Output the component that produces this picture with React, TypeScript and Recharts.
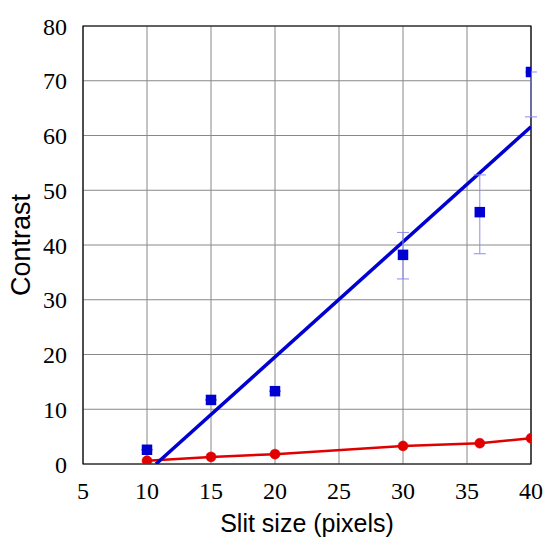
import {
  ComposedChart,
  Scatter,
  Line,
  XAxis,
  YAxis,
  ZAxis,
  CartesianGrid,
  ErrorBar,
  ReferenceArea,
} from "recharts";

const slitSizes = [10, 15, 20, 30, 36, 40];
const blueContrast = [2.6, 11.7, 13.3, 38.2, 46.0, 71.6];
const blueErrLow = [0, 0, 0, 4.4, 7.6, 8.2];
const blueErrHigh = [0, 0, 0, 4.1, 6.8, 0];
const redContrast = [0.6, 1.3, 1.8, 3.3, 3.8, 4.7];
const blueFitX = [10.7, 40];
const blueFitY = [0, 61.6];
const xTicks = [5, 10, 15, 20, 25, 30, 35, 40];
const yTicks = [0, 10, 20, 30, 40, 50, 60, 70, 80];

const blueData = slitSizes.map((x, i) => ({
  x,
  y: blueContrast[i],
  err: [blueErrLow[i], blueErrHigh[i]],
}));
const redData = slitSizes.map((x, i) => ({ x, y: redContrast[i] }));
const fitData = blueFitX.map((x, i) => ({ x, y: blueFitY[i] }));

const css = `
.serif-tick text, text.serif-tick, .recharts-cartesian-axis-tick-value {
  font-family: 'Liberation Serif', 'DejaVu Serif', serif !important;
  font-size: 24px !important;
}
`;

export default function App() {
  return (
    <div style={{ position: "absolute", left: 0, top: 0, background: "#fff" }}>
      <style>{css}</style>
      <ComposedChart
        width={547}
        height={544}
        margin={{ top: 26, right: 16, bottom: 0, left: 0 }}
      >
        <CartesianGrid stroke="#888" strokeWidth={1} />
        <XAxis
          type="number"
          dataKey="x"
          domain={[5, 40]}
          ticks={xTicks}
          allowDataOverflow
          tickLine={false}
          axisLine={false}
          tick={{ fill: "#000", fontSize: 24 }}
          tickMargin={12}
          height={80}
          label={{
            value: "Slit size (pixels)",
            position: "insideBottom",
            offset: 12,
            style: { fontFamily: "Liberation Sans", fontSize: 25, fill: "#000" },
          }}
        />
        <YAxis
          type="number"
          dataKey="y"
          domain={[0, 80]}
          ticks={yTicks}
          allowDataOverflow
          tickLine={false}
          axisLine={false}
          tick={{ fill: "#000", fontSize: 24 }}
          tickMargin={10}
          width={83}
          label={{
            value: "Contrast",
            angle: -90,
            position: "insideLeft",
            offset: 20,
            style: {
              fontFamily: "Liberation Sans",
              fontSize: 27,
              fill: "#000",
              textAnchor: "middle",
            },
          }}
        />
        <ZAxis range={[110, 110]} />
        <ReferenceArea
          x1={5}
          x2={40}
          y1={0}
          y2={80}
          fill="none"
          stroke="#000"
          strokeWidth={1.2}
        />
        <Line
          data={redData}
          dataKey="y"
          stroke="#e00000"
          strokeWidth={2.5}
          dot={{ r: 5, fill: "#e00000", stroke: "#e00000", strokeWidth: 0.5 }}
          isAnimationActive={false}
        />
        <Line
          data={fitData}
          dataKey="y"
          stroke="#0000d0"
          strokeWidth={3.5}
          dot={false}
          isAnimationActive={false}
        />
        <Scatter
          data={blueData}
          dataKey="y"
          fill="#0000d0"
          shape="square"
          isAnimationActive={false}
        >
          <ErrorBar
            dataKey="err"
            direction="y"
            width={6}
            stroke="#8c8cf0"
            strokeWidth={1}
          />
        </Scatter>
      </ComposedChart>
    </div>
  );
}
